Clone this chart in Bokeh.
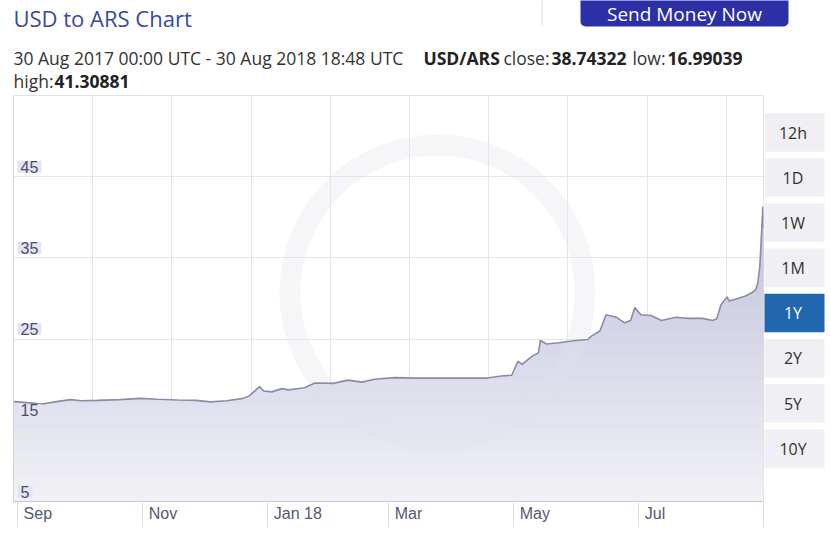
import numpy as np
import pandas as pd
from bokeh.plotting import figure
from bokeh.layouts import column, row
from bokeh.models import (Range1d, FixedTicker, CustomJSTickFormatter, BoxAnnotation, Span, Label)
from bokeh.core.properties import value
from bokeh.embed import file_html
from bokeh.resources import INLINE

# ---------------- data ----------------
dates = ["2017-08-30", "2017-09-01", "2017-09-07", "2017-09-13", "2017-09-20", "2017-09-27",
         "2017-10-02", "2017-10-10", "2017-10-21", "2017-10-31", "2017-11-08", "2017-11-18",
         "2017-11-27", "2017-12-04", "2017-12-12", "2017-12-20", "2017-12-23", "2017-12-28",
         "2017-12-30", "2018-01-03", "2018-01-08", "2018-01-11", "2018-01-19", "2018-01-24",
         "2018-02-02", "2018-02-09", "2018-02-16", "2018-02-22", "2018-03-04", "2018-03-14",
         "2018-03-25", "2018-04-06", "2018-04-18", "2018-04-25", "2018-04-30", "2018-05-03",
         "2018-05-05", "2018-05-10", "2018-05-13", "2018-05-14", "2018-05-17", "2018-05-23",
         "2018-05-30", "2018-06-06", "2018-06-08", "2018-06-12", "2018-06-15", "2018-06-20",
         "2018-06-24", "2018-06-27", "2018-06-29", "2018-07-02", "2018-07-07", "2018-07-12",
         "2018-07-19", "2018-07-25", "2018-08-01", "2018-08-06", "2018-08-08", "2018-08-10",
         "2018-08-13", "2018-08-14", "2018-08-17", "2018-08-22", "2018-08-25", "2018-08-27",
         "2018-08-28", "2018-08-29", "2018-08-30 12:00", "2018-08-30 18:48"]
rates = [17.30, 17.27, 17.15, 17.00, 17.30, 17.55, 17.40, 17.45, 17.55, 17.70, 17.60, 17.50,
         17.45, 17.27, 17.40, 17.70, 18.00, 19.15, 18.60, 18.50, 18.90, 18.75, 19.00, 19.60,
         19.55, 19.95, 19.70, 20.05, 20.25, 20.20, 20.20, 20.20, 20.20, 20.45, 20.55, 22.25,
         21.90, 22.90, 23.30, 24.85, 24.40, 24.55, 24.80, 24.95, 25.40, 26.00, 28.00, 27.70,
         27.00, 27.30, 28.90, 28.00, 27.90, 27.30, 27.70, 27.55, 27.55, 27.30, 27.50, 29.20,
         30.20, 29.70, 29.90, 30.30, 30.70, 31.10, 31.90, 34.00, 41.31, 38.74]
assert len(dates) == len(rates)

y_ticks = [5, 15, 25, 35, 45]
y_tick_labels = ["5", "15", "25", "35", "45"]
x_tick_dates = ["2017-09-01", "2017-11-01", "2018-01-01", "2018-03-01", "2018-05-01", "2018-07-01"]
x_tick_labels = ["Sep", "Nov", "Jan 18", "Mar", "May", "Jul"]
range_buttons = ["12h", "1D", "1W", "1M", "1Y", "2Y", "5Y", "10Y"]
active_button = "1Y"

chart_title = "USD to ARS Chart"
period_text = "30 Aug 2017 00:00 UTC - 30 Aug 2018 18:48 UTC"
period_start_iso = "2017-08-30 00:00"
period_end_iso = "2018-08-30 18:48"
pair = "USD/ARS"
close_val = "38.74322"
low_val = "16.99039"
high_val = "41.30881"
cta_text = "Send Money Now"

# ---------------- layout constants (page pixels) ----------------
PAGE_W = 826
HEADER_H = 94
CHART_W, CHART_H = 764, 437
FRAME_LEFT, FRAME_TOP_PAD, FRAME_RIGHT_PAD, FRAME_BOTTOM_PAD = 13, 1, 1, 30
BTN_W = PAGE_W - CHART_W
FRAME_W = CHART_W - FRAME_LEFT - FRAME_RIGHT_PAD
FRAME_H = CHART_H - FRAME_TOP_PAD - FRAME_BOTTOM_PAD


def ms(s):
    return pd.Timestamp(s).value / 1e6


x0, x1 = ms(period_start_iso), ms(period_end_iso)
Y0, Y1 = 5, 55
px_per_ms = FRAME_W / (x1 - x0)
px_per_unit = FRAME_H / (Y1 - Y0)

xs = np.array([ms(d) for d in dates])
ys = np.array(rates)

FONT = value("Open Sans")

# ---------------- header ----------------
hdr = figure(width=PAGE_W, height=HEADER_H, x_range=Range1d(0, PAGE_W),
             y_range=Range1d(0, HEADER_H), x_axis_location=None, y_axis_location=None,
             output_backend="svg", toolbar_location=None, min_border=0,
             outline_line_color=None, background_fill_color="white",
             border_fill_color="white")
hdr.xgrid.visible = False
hdr.ygrid.visible = False


def hy(py):
    return HEADER_H - py


hdr.text(x=[13], y=[hy(17)], text=[chart_title], text_font=FONT, text_font_size="22px",
         text_color="#3949a3", text_baseline="middle", text_align="left")
hdr.quad(left=[541], right=[542], top=[hy(0)], bottom=[hy(25)], fill_color="#dcdcdc",
         line_color=None)
hdr.add_layout(BoxAnnotation(left=580, right=788, top=hy(-15), bottom=hy(26),
                             fill_color="#2c2fa5", fill_alpha=1, line_color=None,
                             border_radius=5))
hdr.add_layout(Label(x=684, y=hy(13.5), text=cta_text, text_font="Open Sans",
                     text_font_size="19px", text_color="white", text_align="center",
                     text_baseline="middle"))

segments = [
    (period_text, 13, 57.5, "left", "normal"),
    (pair, 423, 57.5, "left", "bold"),
    ("close:", 549, 57.5, "right", "normal"),
    (close_val, 551, 57.5, "left", "bold"),
    ("low:", 665, 57.5, "right", "normal"),
    (low_val, 667, 57.5, "left", "bold"),
    ("high:", 13, 80.5, "left", "normal"),
    (high_val, 54, 80.5, "left", "bold"),
]
for txt, px, py, al, st in segments:
    hdr.text(x=[px], y=[hy(py)], text=[txt], text_font=FONT, text_font_size="17.5px",
             text_font_style=st, text_align=al, text_baseline="middle",
             text_color="#222222" if st == "bold" else "#333333")

# ---------------- chart ----------------
p = figure(width=CHART_W, height=CHART_H, x_axis_type="datetime", y_axis_location=None,
           x_range=Range1d(x0, x1), y_range=Range1d(Y0, Y1),
           output_backend="svg", toolbar_location=None,
           min_border_left=FRAME_LEFT, min_border_right=FRAME_RIGHT_PAD,
           min_border_top=FRAME_TOP_PAD, min_border_bottom=FRAME_BOTTOM_PAD,
           background_fill_color="white", border_fill_color="white",
           outline_line_color="#e2e2ea")

p.ygrid.ticker = FixedTicker(ticks=y_ticks)
p.ygrid.grid_line_color = "#e5e5ea"
grid_step = 0.1056 * (x1 - x0)
p.xgrid.ticker = FixedTicker(ticks=[x0 + k * grid_step for k in range(1, 10)])
p.xgrid.grid_line_color = "#e5e5ea"

arial = {'S': 667, 'e': 556, 'p': 556, 'N': 722, 'o': 556, 'v': 500, 'J': 500, 'a': 556,
         'n': 556, ' ': 278, '1': 556, '8': 556, 'M': 833, 'r': 333, 'y': 500, 'u': 556,
         'l': 222}


def text_w(s, size):
    return sum(arial.get(c, 556) for c in s) * size / 1000.0


tick_ms = [ms(d) for d in x_tick_dates]
centers = [t + (6 + text_w(l, 16) / 2) / px_per_ms for t, l in zip(tick_ms, x_tick_labels)]
ax = p.xaxis[0]
ax.ticker = FixedTicker(ticks=centers, minor_ticks=tick_ms + [x1])
ax.formatter = CustomJSTickFormatter(args=dict(labels=x_tick_labels), code="return labels[index];")
ax.major_tick_line_color = None
ax.major_tick_out = 0
ax.major_tick_in = 0
ax.minor_tick_line_color = "#dddee8"
ax.minor_tick_out = 0
ax.minor_tick_in = -26
ax.axis_line_color = "#c6c7d6"
ax.major_label_standoff = 3
ax.major_label_text_font = "Liberation Sans"
ax.major_label_text_font_size = "16px"
ax.major_label_text_color = "#55587a"

p.add_layout(Span(location=x0, dimension="height", line_color="#c6c7d6", line_width=1))

# gradient-like area fill
p.varea(x=xs, y1=Y0, y2=ys, fill_color="#f2f2f6")
for L in np.arange(Y0, 42, 1.5):
    p.varea(x=xs, y1=L, y2=np.maximum(ys, L), fill_color="#8587b5", fill_alpha=0.016)

# faint watermark ring (pixel geometry converted through the scales)
th = np.linspace(0, 2 * np.pi, 140)
cxp, cyp = 437 - FRAME_LEFT, 501 - 292


def ring(r):
    return (list(x0 + (cxp + r * np.cos(th)) / px_per_ms),
            list(Y0 + (cyp + r * np.sin(th)) / px_per_unit))


ox, oy = ring(158)
ix, iy = ring(137)
p.multi_polygons(xs=[[[ox, ix[::-1]]]], ys=[[[oy, iy[::-1]]]], fill_color="#e2e2ea",
                 fill_alpha=0.3, line_color=None)

p.line(xs, ys, line_color="#898ca8", line_width=1.6)

p.text(x=[x0] * len(y_ticks), y=y_ticks, text=y_tick_labels, x_offset=4, y_offset=-10,
       text_font=value("Liberation Sans"), text_font_size="16px", text_color="#4b4e70",
       text_align="left", text_baseline="middle",
       background_fill_color="#e3e4f0", padding=(3, 0))

# ---------------- range buttons ----------------
btn = figure(width=BTN_W, height=CHART_H, x_range=Range1d(CHART_W, PAGE_W),
             y_range=Range1d(0, CHART_H), x_axis_location=None, y_axis_location=None,
             output_backend="svg", toolbar_location=None, min_border=0,
             outline_line_color=None, background_fill_color="white",
             border_fill_color="white")
btn.xgrid.visible = False
btn.ygrid.visible = False


def by(py):
    return HEADER_H + CHART_H - py


tops = [113 + k * 48.6 for k in range(len(range_buttons))]
fills = ["#2167ad" if b == active_button else "#f0f0f4" for b in range_buttons]
tcols = ["white" if b == active_button else "#333333" for b in range_buttons]
btn.quad(left=[763] * len(tops), right=[824] * len(tops), top=[by(t) for t in tops],
         bottom=[by(t + 41.5) for t in tops], fill_color=fills, line_color=None)
btn.text(x=[792.5] * len(tops), y=[by(t + 21) for t in tops], text=range_buttons,
         text_font=FONT, text_font_size="16px", text_color=tcols,
         text_align="center", text_baseline="middle")

layout = column(hdr, row(p, btn, spacing=0), spacing=0)
open("out.html", "w").write(file_html(layout, INLINE))
